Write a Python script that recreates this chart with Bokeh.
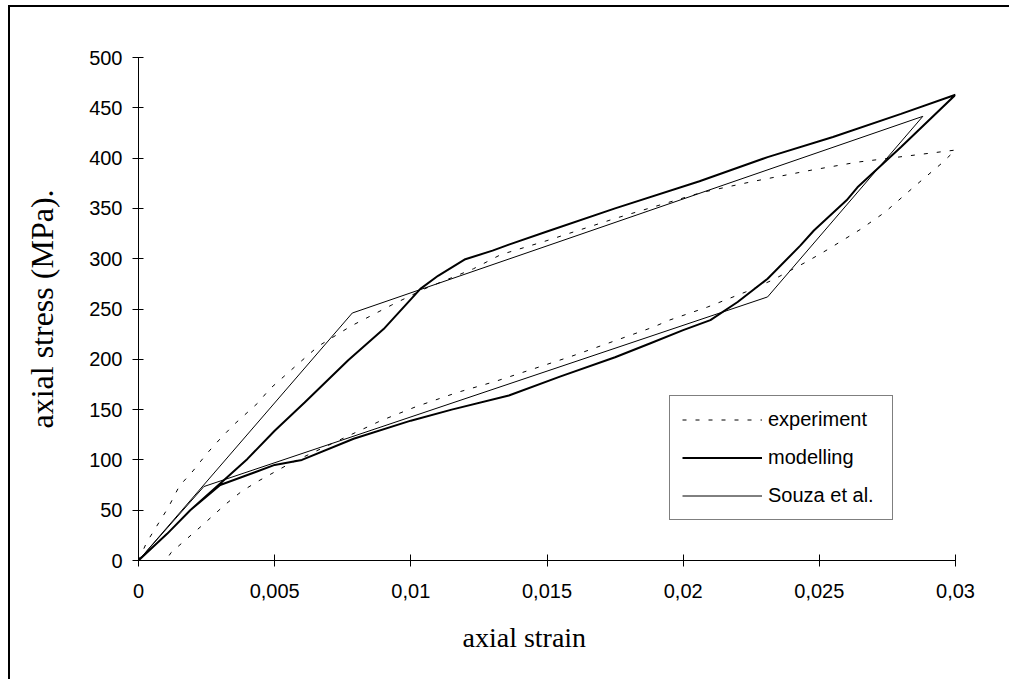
from bokeh.plotting import figure
from bokeh.models import (Range1d, FixedTicker, CustomJSTickFormatter, Legend,
                          LegendItem, Title)
from bokeh.embed import file_html
from bokeh.resources import INLINE

# ---------------- data ----------------
exp_strain = [0, 0.0003, 0.0011, 0.0015, 0.002, 0.0025, 0.003, 0.0035, 0.0044,
              0.0048, 0.0058, 0.0066, 0.0078, 0.0093, 0.0105, 0.0123, 0.0133,
              0.015, 0.0175, 0.0207, 0.0226, 0.0247, 0.0264, 0.0285, 0.03,
              0.0295, 0.0285, 0.0274, 0.0265, 0.0253, 0.0246, 0.0233, 0.0223,
              0.0209, 0.0195, 0.0189, 0.0159, 0.0131, 0.0117, 0.0102, 0.0089,
              0.0074, 0.0056, 0.0044, 0.0038, 0.0032, 0.0023, 0.0012, 0.001]
exp_stress = [0, 18, 53, 74, 89, 106, 121, 135, 157,
              170, 194, 213, 233, 254, 270, 290, 304,
              318, 340, 366, 377, 388, 396, 403, 408,
              395, 372, 346, 329, 309, 298, 279, 267,
              252, 239, 232, 203, 178, 167, 153, 139,
              120, 97, 79, 69, 56, 34, 8, 0]

mod_strain = [0, 0.00105, 0.0019, 0.003, 0.004, 0.005, 0.0061, 0.0077, 0.009,
              0.01035, 0.011, 0.012, 0.013, 0.0136, 0.015, 0.0175, 0.0206, 0.0231,
              0.0255, 0.028, 0.03,
              0.028, 0.0264, 0.026, 0.0248, 0.0243, 0.0231, 0.022, 0.021, 0.02,
              0.0188, 0.0175, 0.0155, 0.0136, 0.0115, 0.01, 0.0079, 0.006,
              0.005, 0.004, 0.003, 0.0019, 0.00105, 0]
mod_stress = [0, 26.5, 50, 76.5, 101, 129, 157, 199, 230,
              270, 283, 299.5, 308, 314, 327, 350, 377, 401,
              421, 444, 463,
              411, 371, 358, 328, 313, 280, 257, 239, 229,
              216, 202, 183, 164, 150, 139, 121, 100,
              95, 85, 75, 50, 26.5, 0]

souza_strain = [0, 0.00785, 0.0288, 0.0231, 0.0024, 0]
souza_stress = [0, 246, 441.5, 262, 73.5, 0]

series_labels = ["experiment", "modelling", "Souza et al."]

x_ticks = [0, 0.005, 0.01, 0.015, 0.02, 0.025, 0.03]
x_tick_labels = ["0", "0,005", "0,01", "0,015", "0,02", "0,025", "0,03"]
y_ticks = [0, 50, 100, 150, 200, 250, 300, 350, 400, 450, 500]

x_title = "axial strain"
y_title = "axial stress (MPa)."

# ---------------- figure ----------------
p = figure(width=1001, height=674, output_backend="svg", toolbar_location=None,
           x_range=Range1d(0, 0.03), y_range=Range1d(0, 500),
           min_border_left=128, min_border_right=56,
           min_border_top=50, min_border_bottom=121)
p.styles = {"border-left": "2px solid black", "border-top": "2px solid black",
            "margin-left": "8px", "margin-top": "5px"}
p.background_fill_color = "white"
p.border_fill_color = "white"
p.outline_line_color = None
p.xgrid.visible = False
p.ygrid.visible = False

r_exp = p.line(exp_strain, exp_stress, line_color="black", line_width=1,
               line_dash="4 9")
r_mod = p.line(mod_strain, mod_stress, line_color="black", line_width=2)
r_sou = p.line(souza_strain, souza_stress, line_color="black", line_width=1)

# axes
for ax in (p.xaxis[0], p.yaxis[0]):
    ax.axis_line_color = "black"
    ax.axis_line_width = 1
    ax.major_tick_line_color = "black"
    ax.major_tick_line_width = 1
    ax.minor_tick_line_color = None
    ax.major_label_text_font = "Liberation Sans"
    ax.major_label_text_font_size = "20px"
    ax.major_label_text_color = "black"

p.xaxis.ticker = FixedTicker(ticks=x_ticks)
p.xaxis.formatter = CustomJSTickFormatter(
    args=dict(tvals=x_ticks, tlabels=x_tick_labels),
    code="""
    let best = 0;
    for (let i = 0; i < tvals.length; i++) {
        if (Math.abs(tvals[i] - tick) < Math.abs(tvals[best] - tick)) best = i;
    }
    return tlabels[best];
""")
p.xaxis.major_tick_in = 6
p.xaxis.major_tick_out = 6
p.xaxis.major_label_standoff = 17

p.yaxis.ticker = FixedTicker(ticks=y_ticks)
p.yaxis.major_tick_in = 5
p.yaxis.major_tick_out = 6
p.yaxis.major_label_standoff = 10
p.yaxis.axis_label = y_title
p.yaxis.axis_label_text_font = "Liberation Serif"
p.yaxis.axis_label_text_font_size = "32px"
p.yaxis.axis_label_text_font_style = "normal"
p.yaxis.axis_label_text_color = "black"
p.yaxis.axis_label_standoff = 26

xt = Title(text=x_title, align="left", offset=324,
           text_font="Liberation Serif", text_font_size="28px",
           text_font_style="normal", text_color="black", standoff=38)
p.add_layout(xt, "below")

legend = Legend(items=[LegendItem(label=series_labels[0], renderers=[r_exp]),
                       LegendItem(label=series_labels[1], renderers=[r_mod]),
                       LegendItem(label=series_labels[2], renderers=[r_sou])],
                location=(531, 40))
legend.label_text_font = "Liberation Sans"
legend.label_text_font_size = "20px"
legend.label_text_color = "black"
legend.glyph_width = 80
legend.glyph_height = 23
legend.label_height = 23
legend.label_width = 112
legend.spacing = 15
legend.padding = 12
legend.label_standoff = 6
legend.margin = 0
legend.border_line_color = "black"
legend.border_line_width = 1
legend.background_fill_color = "white"
legend.background_fill_alpha = 1
p.add_layout(legend)

open("out.html", "w").write(file_html(p, INLINE))
